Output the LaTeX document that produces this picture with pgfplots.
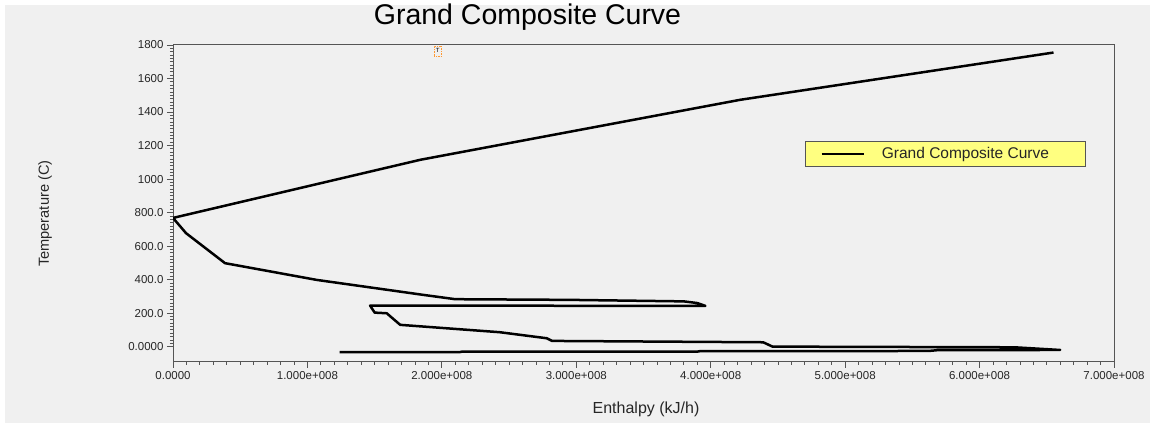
\documentclass[border=0pt]{standalone}
\usepackage{fontspec}
\setmainfont{Liberation Sans}
\usepackage{pgfplots}
\pgfplotsset{compat=1.18}
\definecolor{bg}{HTML}{F0F0F0}
\definecolor{legyellow}{HTML}{FFFF80}
\definecolor{axgray}{HTML}{555555}
\begin{document}
\begin{tikzpicture}
\fill[white] (-173pt,-61.3pt) rectangle (982pt,361.7pt);
\fill[bg] (-168pt,-61.3pt) rectangle (977pt,356.7pt);
\begin{axis}[
  at={(0pt,0pt)}, anchor=south west,
  scale only axis, width=941pt, height=316.7pt,
  xmin=0, xmax=7e8, ymin=-90, ymax=1800,
  scaled x ticks=false, scaled y ticks=false,
  xtick={0,1e8,2e8,3e8,4e8,5e8,6e8,7e8},
  xticklabels={0.0000,1.000e+008,2.000e+008,3.000e+008,4.000e+008,5.000e+008,6.000e+008,7.000e+008},
  ytick={0,200,400,600,800,1000,1200,1400,1600,1800},
  yticklabels={0.0000,200.0,400.0,600.0,800.0,1000,1200,1400,1600,1800},
  minor x tick num=9, minor y tick num=9,
  tick align=outside, tick pos=left,
  major tick length=6pt, minor tick length=3pt,
  every tick/.style={axgray, line width=0.8pt},
  axis line style={axgray, line width=1pt},
  ticklabel style={font=\fontsize{11.5}{13}\selectfont, text=black!85},
  /pgf/number format/assume math mode=true,
  legend style={at={(0.6716,0.696)}, anchor=north west, fill=legyellow,
    draw=axgray, line width=0.8pt, inner xsep=0pt, inner ysep=4pt,
    font=\fontsize{15.5}{18}\selectfont, text=black!85},
  legend image code/.code={\path (-15pt,0pt) (57pt,0pt); \draw[black,line width=2.6pt] (0pt,0pt) -- (42pt,0pt);},
]
\addplot[black, line width=2.5pt, line join=round] coordinates {
(6.55e8,1755)
(4.22e8,1473)
(1.84e8,1115)
(0,768)
(0.097e8,677)
(0.387e8,498)
(1.07e8,398)
(1.39e8,362)
(1.86e8,309)
(2.10e8,283)
(2.95e8,279)
(3.80e8,270)
(3.90e8,260)
(3.96e8,243)
(1.466e8,245)
(1.50e8,203)
(1.59e8,199)
(1.69e8,130)
(2.43e8,86)
(2.78e8,50)
(2.82e8,34)
(4.39e8,26)
(4.46e8,0)
(6.26e8,-4)
(6.60e8,-20)
(5.69e8,-21)
(5.62e8,-26)
(3.92e8,-27)
(3.90e8,-30)
(2.15e8,-30)
(2.13e8,-33)
(1.24e8,-33)
};
\addlegendentry{\makebox[202pt][l]{Grand Composite Curve}}
\node[draw=orange!80, densely dotted, line width=0.6pt, inner sep=0.5pt,
  minimum width=7pt, minimum height=10pt, font=\fontsize{6}{6}\selectfont]
  at (axis cs:1.97e8,1765) {T};
\end{axis}
\node[anchor=base, font=\fontsize{28.5}{32}\selectfont] at (354.5pt,337pt) {Grand Composite Curve};
\node[rotate=90, font=\fontsize{14.6}{17}\selectfont, text=black!85] at (-128pt,148pt) {Temperature (C)};
\node[font=\fontsize{16}{18}\selectfont, text=black!85] at (473pt,-48pt) {Enthalpy (kJ/h)};
\end{tikzpicture}
\end{document}
